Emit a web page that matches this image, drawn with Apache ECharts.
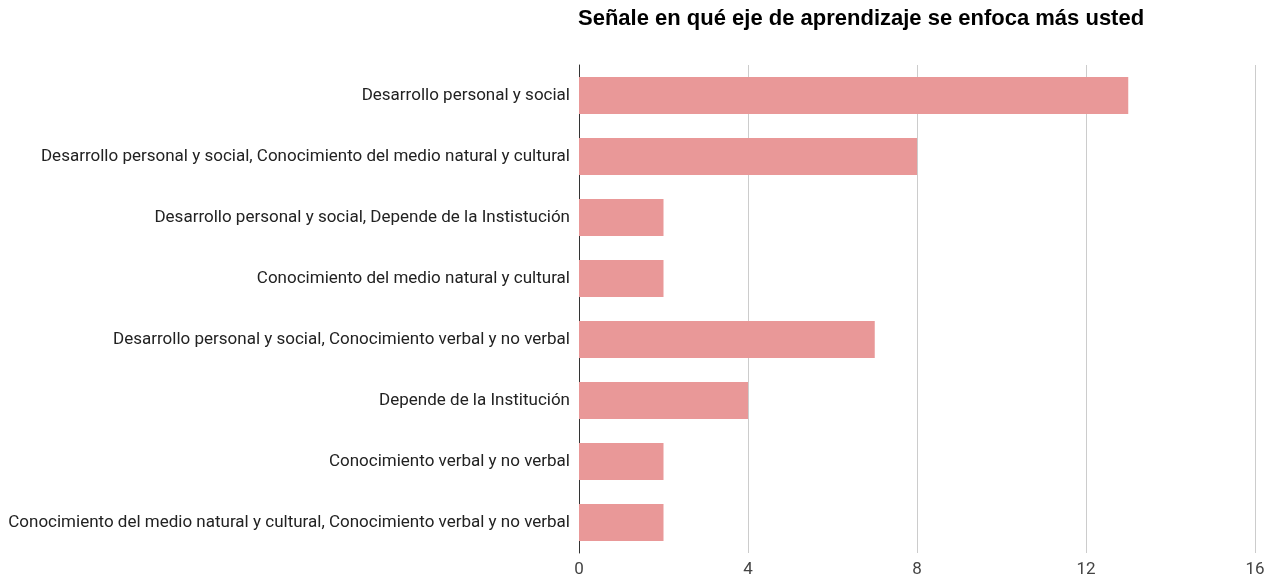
<!DOCTYPE html>
<html><head><meta charset="utf-8">
<script src="https://cdn.jsdelivr.net/npm/echarts@6/dist/echarts.min.js"></script>
<style>html,body{margin:0;padding:0;background:#fff}#c{width:1278px;height:581px}</style>
</head><body><div id="c"></div>
<script>
const titleText = "Señale en qué eje de aprendizaje se enfoca más usted";
const categories = [
  "Desarrollo personal y social",
  "Desarrollo personal y social, Conocimiento del medio natural y cultural",
  "Desarrollo personal y social, Depende de la Instistución",
  "Conocimiento del medio natural y cultural",
  "Desarrollo personal y social, Conocimiento verbal y no verbal",
  "Depende de la Institución",
  "Conocimiento verbal y no verbal",
  "Conocimiento del medio natural y cultural, Conocimiento verbal y no verbal"
];
const values = [13, 8, 2, 2, 7, 4, 2, 2];
const xTicks = [0, 4, 8, 12, 16];

const fontLab = "Roboto, 'Liberation Sans', Arial, sans-serif";
const chart = echarts.init(document.getElementById('c'), null, {renderer: 'canvas'});
chart.setOption({
  animation: false,
  title: {
    text: titleText, left: 578, top: 8, padding: 0,
    textStyle: {fontFamily: "'Liberation Sans', Arial, sans-serif", fontWeight: 'bold', fontSize: 22, color: '#000'}
  },
  grid: {left: 579, right: 23, top: 65, bottom: 28, containLabel: false},
  xAxis: {
    type: 'value', min: xTicks[0], max: xTicks[xTicks.length - 1], interval: 4,
    axisLine: {show: false}, axisTick: {show: false},
    splitLine: {lineStyle: {color: '#cccccc', width: 1}},
    axisLabel: {fontFamily: fontLab, fontSize: 17, color: '#444', margin: 8}
  },
  yAxis: {
    type: 'category', data: categories, inverse: true,
    axisLine: {show: true, lineStyle: {color: '#333', width: 1}},
    axisTick: {show: false},
    axisLabel: {fontFamily: fontLab, fontSize: 17, color: '#222', margin: 9}
  },
  series: [{
    type: 'bar', data: values, barWidth: '61%',
    itemStyle: {color: '#e99898'}
  }]
});
</script></body></html>
